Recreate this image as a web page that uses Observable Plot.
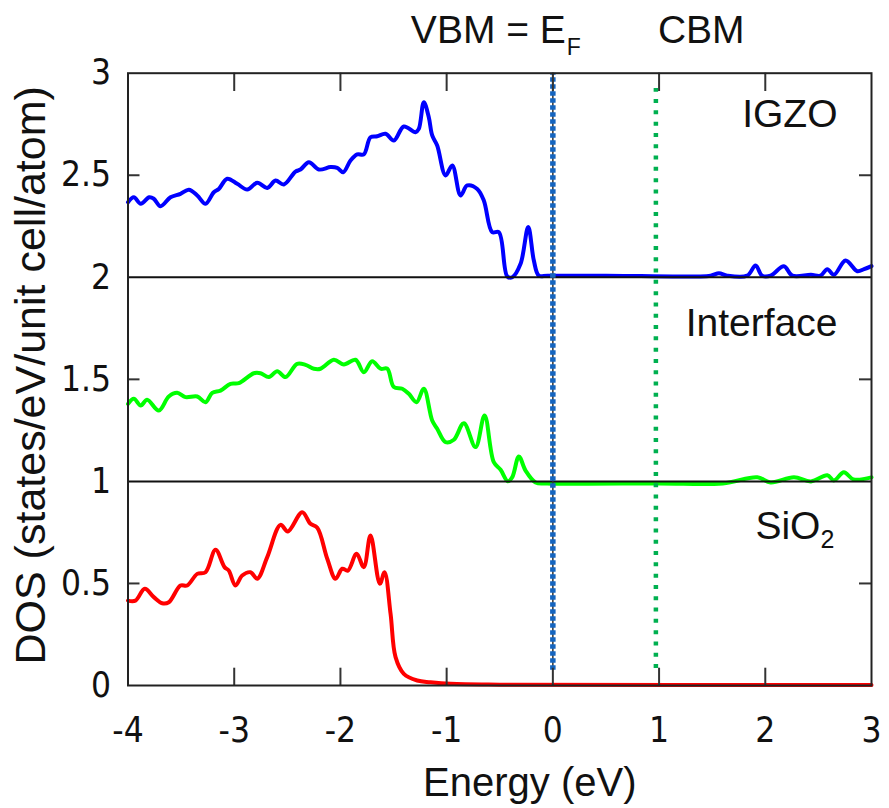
<!DOCTYPE html>
<html>
<head>
<meta charset="utf-8">
<script src="https://cdn.jsdelivr.net/npm/d3@7"></script>
<script src="https://cdn.jsdelivr.net/npm/@observablehq/plot@0.6"></script>
<style>
  html, body { margin: 0; padding: 0; background: #fff; }
</style>
</head>
<body>
<div id="chart"></div>
<script>
// Tick values
const xTicks = [-4, -3, -2, -1, 0, 1, 2, 3];
const yTicks = [0, 0.5, 1, 1.5, 2, 2.5, 3];
const innerXTicks = [-3, -2, -1, 0, 1, 2];
const innerYTicks = [0.5, 1.5, 2.5];
const panelBaselines = [1, 2];

// Band edges (eV)
const vbm = 0;
const cbm = 0.97;

// DOS curves as [energy, plotted DOS] (IGZO offset by 2, Interface by 1)
const igzo = [
  [-4, 2.368], [-3.945, 2.392], [-3.88, 2.36], [-3.80, 2.392], [-3.757, 2.385], [-3.694, 2.348],
  [-3.60, 2.392], [-3.506, 2.409], [-3.427, 2.429], [-3.348, 2.401], [-3.27, 2.36], [-3.192, 2.417],
  [-3.145, 2.433], [-3.066, 2.483], [-2.972, 2.458], [-2.877, 2.43], [-2.783, 2.463], [-2.689, 2.438],
  [-2.611, 2.474], [-2.533, 2.455], [-2.423, 2.518], [-2.376, 2.528], [-2.297, 2.564], [-2.203, 2.528],
  [-2.093, 2.540], [-2.030, 2.536], [-1.974, 2.515], [-1.905, 2.572], [-1.842, 2.602], [-1.780, 2.602],
  [-1.717, 2.686], [-1.654, 2.691], [-1.575, 2.703], [-1.497, 2.670], [-1.403, 2.739], [-1.293, 2.711],
  [-1.262, 2.727], [-1.215, 2.858], [-1.168, 2.784], [-1.136, 2.695], [-1.089, 2.646], [-1.010, 2.499],
  [-0.947, 2.548], [-0.869, 2.401], [-0.806, 2.450], [-0.712, 2.433], [-0.650, 2.376], [-0.571, 2.221],
  [-0.508, 2.221], [-0.429, 2.004], [-0.382, 2.000], [-0.304, 2.066], [-0.232, 2.246], [-0.179, 2.082],
  [-0.132, 2.008], [-0.05, 2.008], [0.5, 2.008], [1.485, 2.008], [1.563, 2.02], [1.642, 2.008], [1.83, 2.008],
  [1.909, 2.058], [1.97, 2.008], [2.05, 2.008], [2.175, 2.054], [2.254, 2.008], [2.43, 2.012],
  [2.52, 2.008], [2.584, 2.04], [2.646, 2.012], [2.756, 2.082], [2.866, 2.03], [2.93, 2.04], [3.0, 2.055]
];

const iface = [
  [-4, 1.380], [-3.945, 1.405], [-3.88, 1.372], [-3.82, 1.40], [-3.71, 1.347], [-3.616, 1.416],
  [-3.537, 1.434], [-3.459, 1.413], [-3.348, 1.416], [-3.27, 1.388], [-3.207, 1.434], [-3.129, 1.445],
  [-3.035, 1.478], [-2.957, 1.481], [-2.815, 1.530], [-2.752, 1.530], [-2.674, 1.511], [-2.595, 1.540],
  [-2.517, 1.511], [-2.407, 1.576], [-2.329, 1.571], [-2.25, 1.552], [-2.187, 1.552], [-2.062, 1.596],
  [-1.968, 1.573], [-1.858, 1.596], [-1.780, 1.535], [-1.701, 1.589], [-1.622, 1.552], [-1.559, 1.552],
  [-1.497, 1.462], [-1.418, 1.454], [-1.356, 1.429], [-1.283, 1.388], [-1.215, 1.454], [-1.136, 1.298],
  [-1.089, 1.258], [-1.010, 1.192], [-0.932, 1.204], [-0.838, 1.285], [-0.728, 1.168], [-0.643, 1.323],
  [-0.556, 1.094], [-0.492, 1.057], [-0.424, 1.001], [-0.382, 1.021], [-0.320, 1.122], [-0.257, 1.053],
  [-0.163, 0.995], [-0.053, 0.99], [1.0, 0.99], [1.6, 0.99], [1.925, 1.02], [2.05, 0.995],
  [2.27, 1.02], [2.43, 1.0], [2.584, 1.03], [2.646, 1.005], [2.74, 1.045], [2.83, 1.01], [3.0, 1.02]
];

const sio2 = [
  [-4, 0.416], [-3.93, 0.416], [-3.842, 0.474], [-3.757, 0.433], [-3.678, 0.403], [-3.616, 0.408],
  [-3.506, 0.490], [-3.443, 0.490], [-3.348, 0.547], [-3.27, 0.555], [-3.176, 0.665], [-3.091, 0.580],
  [-3.051, 0.563], [-2.988, 0.490], [-2.925, 0.539], [-2.847, 0.555], [-2.783, 0.523], [-2.689, 0.629],
  [-2.564, 0.787], [-2.495, 0.755], [-2.360, 0.849], [-2.282, 0.792], [-2.218, 0.773], [-2.124, 0.621],
  [-2.046, 0.523], [-1.983, 0.572], [-1.930, 0.563], [-1.848, 0.645], [-1.780, 0.580], [-1.717, 0.735],
  [-1.629, 0.498], [-1.585, 0.555], [-1.528, 0.351], [-1.481, 0.139], [-1.403, 0.057], [-1.277, 0.0245],
  [-1.152, 0.016], [-0.963, 0.008], [-0.5, 0.004], [3.0, 0.003]
];

const seriesNames = ["IGZO", "Interface", "SiO"];
const seriesColors = ["#0000ff", "#00ff00", "#ff0000"];

const sans = "'Liberation Sans', Arial, sans-serif";
const fmt = d => String(d);

const chart = Plot.plot({
  width: 889,
  height: 808,
  marginLeft: 127.5,
  marginRight: 18,
  marginTop: 72.7,
  marginBottom: 123,
  style: {background: "#fff", fontFamily: "'DejaVu Sans Condensed', 'DejaVu Sans', sans-serif", fontSize: "35px", color: "#111", overflow: "visible"},
  x: {domain: [-4, 3]},
  y: {domain: [0, 3]},
  marks: [
    // curves
    Plot.line(sio2, {x: d => d[0], y: d => d[1], stroke: seriesColors[2], strokeWidth: 4, curve: "catmull-rom"}),
    Plot.line(iface, {x: d => d[0], y: d => d[1], stroke: seriesColors[1], strokeWidth: 4, curve: "catmull-rom"}),
    Plot.line(igzo, {x: d => d[0], y: d => d[1], stroke: seriesColors[0], strokeWidth: 4, curve: "catmull-rom"}),
    // panel separators
    Plot.ruleY(panelBaselines, {stroke: "#111", strokeWidth: 2}),
    // VBM / CBM dotted lines
    Plot.ruleX([vbm], {y1: 0.075, y2: 3, stroke: "#333", strokeWidth: 1.5}),
    Plot.ruleX([vbm], {y1: 0.075, y2: 3, stroke: "#1565c0", strokeWidth: 5.5, strokeDasharray: "4.5,2.5"}),
    Plot.ruleX([cbm], {y1: 0.083, y2: 2.925, stroke: "#00b050", strokeWidth: 4.5, strokeDasharray: "4,7.3"}),
    // inward ticks
    Plot.tickX(innerXTicks, {x: d => d, insetTop: 595, stroke: "#333", strokeWidth: 2}),
    Plot.tickX(innerXTicks, {x: d => d, insetBottom: 594, stroke: "#333", strokeWidth: 2}),
    Plot.tickY(innerYTicks, {y: d => d, insetRight: 731.5, stroke: "#333", strokeWidth: 2}),
    Plot.tickY(innerYTicks, {y: d => d, insetLeft: 731.5, stroke: "#333", strokeWidth: 2}),
    Plot.frame({stroke: "#222", strokeWidth: 2}),
    // axes (labels only)
    Plot.axisX(xTicks, {anchor: "bottom", tickSize: 0, tickPadding: 32, tickFormat: fmt, label: null, fill: "#111"}),
    Plot.axisY(yTicks, {anchor: "left", tickSize: 0, tickPadding: 17, tickFormat: fmt, label: null, fill: "#111"}),
    // axis titles
    Plot.text(["DOS (states/eV/unit cell/atom)"], {frameAnchor: "left", textAnchor: "middle", lineAnchor: "middle", rotate: -90, dx: -97, dy: -4, fontSize: 43, fontFamily: sans, fill: "#111"}),
    Plot.text(["Energy (eV)"], {frameAnchor: "bottom", textAnchor: "middle", lineAnchor: "bottom", dx: 30, dy: 110, fontSize: 40, fontFamily: sans, fill: "#111"}),
    // panel labels
    Plot.text([seriesNames[0]], {x: 2.68, y: 2.80, textAnchor: "end", fontSize: 39, fontFamily: sans, fill: "#111"}),
    Plot.text([seriesNames[1]], {x: 2.68, y: 1.776, textAnchor: "end", fontSize: 39, fontFamily: sans, fill: "#111"}),
    Plot.text([seriesNames[2]], {x: 2.519, y: 0.777, textAnchor: "end", fontSize: 39, fontFamily: sans, fill: "#111"}),
    Plot.text(["2"], {x: 2.519, y: 0.715, textAnchor: "start", fontSize: 25, fontFamily: sans, fill: "#111"}),
    // band-edge labels
    Plot.text(["VBM = E"], {x: vbm, y: 3.209, dx: 13, textAnchor: "end", fontSize: 39, fontFamily: sans, fill: "#111"}),
    Plot.text(["F"], {x: vbm, y: 3.125, dx: 14, textAnchor: "start", fontSize: 23, fontFamily: sans, fill: "#111"}),
    Plot.text(["CBM"], {x: cbm, y: 3.209, dx: 2, textAnchor: "start", fontSize: 39, fontFamily: sans, fill: "#111"})
  ]
});
document.getElementById("chart").appendChild(chart);
</script>
</body>
</html>
